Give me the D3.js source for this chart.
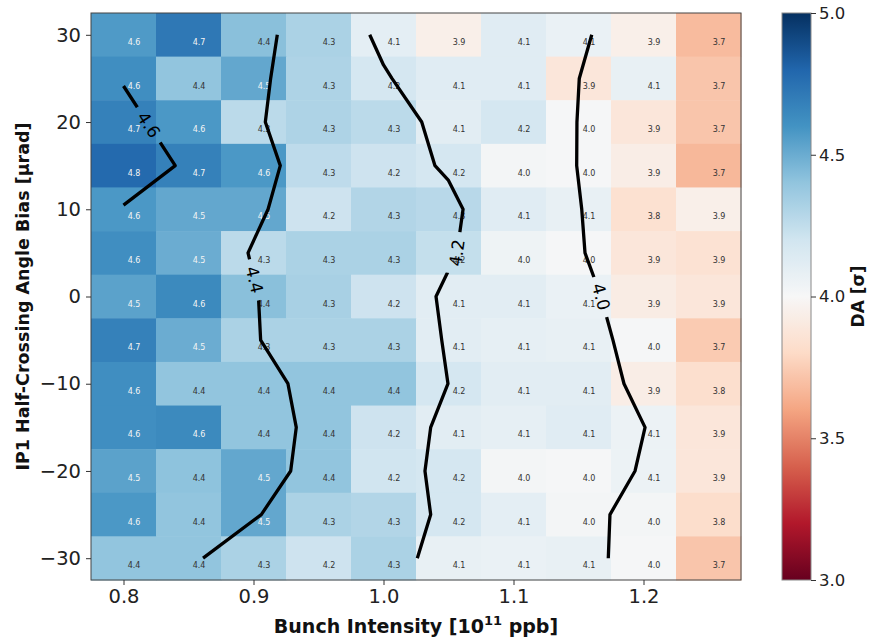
<!DOCTYPE html>
<html>
<head>
<meta charset="utf-8">
<script src="https://cdn.jsdelivr.net/npm/d3@7"></script>
<style>
body { margin: 0; background: #fff; }
text { font-family: "DejaVu Sans", sans-serif; }
</style>
</head>
<body>
<svg id="chart" width="869" height="641"></svg>
<script>
// bunch intensity (1e11 ppb) and IP1 half-crossing angle bias (urad)
const intensities = [0.80, 0.85, 0.90, 0.95, 1.00, 1.05, 1.10, 1.15, 1.20, 1.25];
const angles = [30, 25, 20, 15, 10, 5, 0, -5, -10, -15, -20, -25, -30];

// DA in sigma, one row per angle (top row = +30)
const da = [
    [4.57, 4.72, 4.42, 4.32, 4.10, 3.94, 4.12, 4.07, 3.94, 3.68],
    [4.62, 4.40, 4.52, 4.31, 4.18, 4.12, 4.12, 3.88, 4.08, 3.72],
    [4.68, 4.58, 4.27, 4.31, 4.27, 4.11, 4.18, 4.01, 3.88, 3.72],
    [4.78, 4.68, 4.58, 4.26, 4.21, 4.18, 4.02, 4.01, 3.93, 3.67],
    [4.58, 4.52, 4.52, 4.21, 4.30, 4.28, 4.12, 4.08, 3.84, 3.94],
    [4.62, 4.50, 4.27, 4.32, 4.32, 4.24, 4.05, 4.01, 3.88, 3.85],
    [4.54, 4.64, 4.42, 4.33, 4.21, 4.11, 4.11, 4.07, 3.92, 3.88],
    [4.68, 4.50, 4.32, 4.32, 4.32, 4.11, 4.09, 4.08, 4.01, 3.74],
    [4.62, 4.40, 4.40, 4.40, 4.40, 4.18, 4.11, 4.11, 3.93, 3.83],
    [4.62, 4.64, 4.40, 4.40, 4.21, 4.11, 4.09, 4.12, 4.06, 3.88],
    [4.54, 4.41, 4.52, 4.40, 4.20, 4.18, 4.02, 4.01, 4.06, 3.88],
    [4.58, 4.40, 4.52, 4.32, 4.30, 4.18, 4.10, 4.02, 4.02, 3.82],
    [4.40, 4.40, 4.32, 4.21, 4.32, 4.08, 4.07, 4.08, 4.01, 3.72]
];

const xTicks = [0.8, 0.9, 1.0, 1.1, 1.2];
const yTicks = [-30, -20, -10, 0, 10, 20, 30];
const cbarTicks = [3.0, 3.5, 4.0, 4.5, 5.0];

// contour lines, [intensity, angle]
const contour46 = [[0.8, 24.13], [0.8398, 15], [0.8, 10.48]];
const contour44 = [[0.9183, 30], [0.9132, 25], [0.9091, 20], [0.9206, 15], [0.9112, 10], [0.8958, 5],
    [0.9038, 0], [0.9055, -5], [0.9265, -10], [0.9329, -15], [0.9286, -20], [0.9060, -25], [0.8612, -30]];
const contour42 = [[0.9894, 30], [1.0, 26.54], [1.0065, 25], [1.0294, 20], [1.0396, 15], [1.05, 13.31],
    [1.0612, 10], [1.0565, 5], [1.0404, 0], [1.0448, -5], [1.0496, -10], [1.0363, -15], [1.0319, -20],
    [1.0363, -25], [1.0260, -30]];
const contour40 = [[1.1602, 30], [1.1506, 25], [1.1488, 20], [1.1486, 15], [1.1525, 10], [1.155, 5],
    [1.1673, 0], [1.1765, -5], [1.185, -10], [1.2012, -15], [1.1935, -20], [1.1742, -25], [1.1729, -30]];
const contourLevels = ["4.6", "4.4", "4.2", "4.0"];
const contourLines = [contour46, contour44, contour42, contour40];
const labelSpots = [[0.8227, 20.0], [0.8996, 1.88], [1.0573, 4.98], [1.1665, -0.07]];

// matplotlib RdBu
const rdbu = ["#67001f", "#b2182b", "#d6604d", "#f4a582", "#fddbc7", "#f7f7f7",
    "#d1e5f0", "#92c5de", "#4393c3", "#2166ac", "#053061"];

const svg = d3.select("#chart");
const plot = {left: 91, right: 741, top: 13, bottom: 580};

const x = d3.scaleLinear().domain([0.775, 1.275]).range([plot.left, plot.right]);
const y = d3.scaleLinear().domain([-32.5, 32.5]).range([plot.bottom, plot.top]);
const color = d3.scaleLinear()
    .domain(d3.range(11).map(i => 3 + i * 0.2))
    .range(rdbu)
    .interpolate(d3.interpolateRgb)
    .clamp(true);

const cw = x(0.05) - x(0);
const ch = y(0) - y(5);

const cells = [];
angles.forEach((a, j) => intensities.forEach((b, i) => cells.push({b: b, a: a, v: da[j][i]})));

svg.append("g")
    .selectAll("rect")
    .data(cells)
    .join("rect")
    .attr("x", d => x(d.b) - cw / 2)
    .attr("y", d => y(d.a) - ch / 2)
    .attr("width", cw + 0.5)
    .attr("height", ch + 0.5)
    .attr("fill", d => color(d.v));

svg.append("g")
    .selectAll("text")
    .data(cells)
    .join("text")
    .attr("x", d => x(d.b) + 10.5)
    .attr("y", d => y(d.a) + 7.3)
    .attr("dy", "0.35em")
    .attr("text-anchor", "middle")
    .attr("font-size", 8)
    .attr("fill", d => d.v >= 4.45 ? "#f4f4f4" : "#333")
    .text(d => d.v.toFixed(1));

// contour lines with gaps for inline labels
const line = d3.line().x(d => x(d[0])).y(d => y(d[1]));
const labels = contourLines.map((pts, k) => {
    const px = x(labelSpots[k][0]), py = y(labelSpots[k][1]);
    let best = null;
    for (let s = 0; s < pts.length - 1; s++) {
        const ax = x(pts[s][0]), ay = y(pts[s][1]), bx = x(pts[s + 1][0]), by = y(pts[s + 1][1]);
        const dx = bx - ax, dy = by - ay;
        const t = Math.max(0, Math.min(1, ((px - ax) * dx + (py - ay) * dy) / (dx * dx + dy * dy)));
        const qx = ax + t * dx, qy = ay + t * dy;
        const dist = Math.hypot(px - qx, py - qy);
        if (!best || dist < best.dist) {
            let ang = Math.atan2(dy, dx) * 180 / Math.PI;
            if (ang > 90) ang -= 180;
            if (ang <= -90) ang += 180;
            best = {dist: dist, x: qx, y: qy, ang: ang};
        }
    }
    best.text = contourLevels[k];
    return best;
});

const mask = svg.append("defs").append("mask").attr("id", "gaps").attr("maskUnits", "userSpaceOnUse")
    .attr("x", 0).attr("y", 0).attr("width", 869).attr("height", 641);
mask.append("rect").attr("width", 869).attr("height", 641).attr("fill", "#fff");
mask.selectAll("rect.gap")
    .data(labels)
    .join("rect")
    .attr("class", "gap")
    .attr("x", -21).attr("y", -10).attr("width", 42).attr("height", 20)
    .attr("fill", "#000")
    .attr("transform", d => `translate(${d.x},${d.y}) rotate(${d.ang})`);

svg.append("g")
    .attr("mask", "url(#gaps)")
    .selectAll("path")
    .data(contourLines)
    .join("path")
    .attr("d", line)
    .attr("fill", "none")
    .attr("stroke", "#000")
    .attr("stroke-width", 3.3)
    .attr("stroke-linejoin", "round");

svg.append("g")
    .selectAll("text")
    .data(labels)
    .join("text")
    .attr("transform", d => `translate(${d.x},${d.y}) rotate(${d.ang})`)
    .attr("dy", "0.35em")
    .attr("text-anchor", "middle")
    .attr("font-size", 17)
    .attr("fill", "#000")
    .text(d => d.text);

svg.append("rect")
    .attr("x", plot.left).attr("y", plot.top)
    .attr("width", plot.right - plot.left).attr("height", plot.bottom - plot.top)
    .attr("fill", "none").attr("stroke", "#444").attr("stroke-width", 1);

// axes
const xAxis = svg.append("g")
    .attr("transform", `translate(0,${plot.bottom})`)
    .call(d3.axisBottom(x).tickValues(xTicks).tickFormat(d3.format(".1f")).tickSize(5).tickPadding(4));
const yAxis = svg.append("g")
    .attr("transform", `translate(${plot.left},0)`)
    .call(d3.axisLeft(y).tickValues(yTicks).tickFormat(d3.format("d")).tickSize(5).tickPadding(5));
[xAxis, yAxis].forEach(g => {
    g.select(".domain").remove();
    g.selectAll("line").attr("stroke", "#333");
    g.selectAll("text").attr("font-size", 19.5).attr("fill", "#222").attr("font-family", "DejaVu Sans, sans-serif");
});

const xLabel = svg.append("text")
    .attr("x", (plot.left + plot.right) / 2)
    .attr("y", 633)
    .attr("text-anchor", "middle")
    .attr("font-size", 19)
    .attr("font-weight", "bold")
    .attr("fill", "#111");
xLabel.append("tspan").text("Bunch Intensity [10");
xLabel.append("tspan").attr("font-size", 13).attr("dy", -8).text("11");
xLabel.append("tspan").attr("dy", 8).text(" ppb]");

svg.append("text")
    .attr("transform", `translate(29,${(plot.top + plot.bottom) / 2}) rotate(-90)`)
    .attr("text-anchor", "middle")
    .attr("font-size", 17.5)
    .attr("font-weight", "bold")
    .attr("fill", "#111")
    .text("IP1 Half-Crossing Angle Bias [\u03bcrad]");

// colorbar
const cb = {left: 782, width: 29};
const cy = d3.scaleLinear().domain([3, 5]).range([plot.bottom, plot.top]);
const grad = svg.select("defs").append("linearGradient")
    .attr("id", "cbar").attr("x1", 0).attr("y1", 1).attr("x2", 0).attr("y2", 0);
grad.selectAll("stop")
    .data(d3.range(0, 1.0001, 0.02))
    .join("stop")
    .attr("offset", d => d)
    .attr("stop-color", d => color(3 + 2 * d));
svg.append("rect")
    .attr("x", cb.left).attr("y", plot.top)
    .attr("width", cb.width).attr("height", plot.bottom - plot.top)
    .attr("fill", "url(#cbar)")
    .attr("stroke", "#888").attr("stroke-width", 1);
const cAxis = svg.append("g")
    .attr("transform", `translate(${cb.left + cb.width},0)`)
    .call(d3.axisRight(cy).tickValues(cbarTicks).tickFormat(d3.format(".1f")).tickSize(5).tickPadding(3));
cAxis.select(".domain").remove();
cAxis.selectAll("line").attr("stroke", "#333");
cAxis.selectAll("text").attr("font-size", 16.5).attr("fill", "#222").attr("font-family", "DejaVu Sans, sans-serif");

svg.append("text")
    .attr("transform", `translate(864,${(plot.top + plot.bottom) / 2}) rotate(-90)`)
    .attr("text-anchor", "middle")
    .attr("font-size", 17)
    .attr("font-weight", "bold")
    .attr("fill", "#111")
    .text("DA [\u03c3]");
</script>
</body>
</html>
